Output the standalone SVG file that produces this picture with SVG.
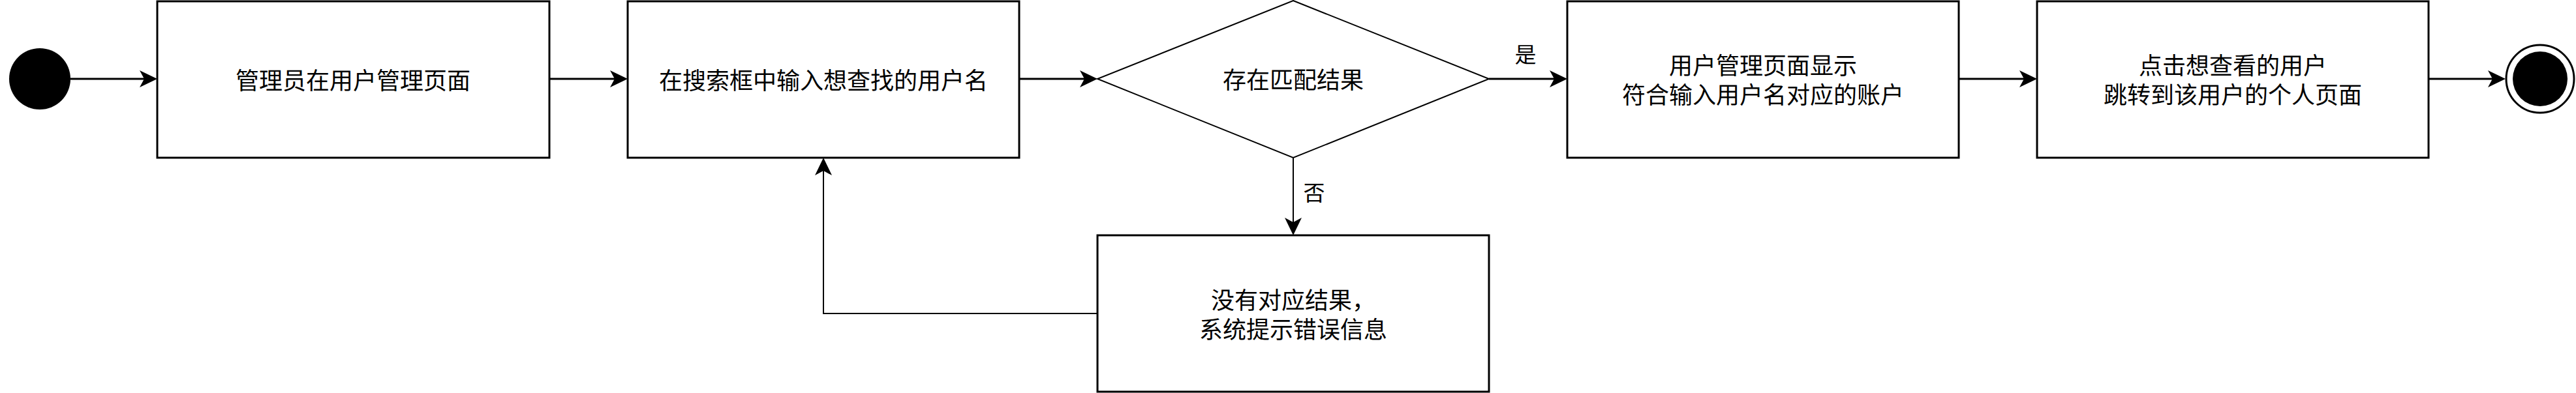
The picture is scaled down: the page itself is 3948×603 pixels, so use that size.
<svg xmlns="http://www.w3.org/2000/svg" width="3948" height="603" viewBox="0 0 3948 603">
<style>
.box{fill:#fff;stroke:#000;stroke-width:3}
.dia{fill:#fff;stroke:#000;stroke-width:2}
.t{font-family:"Noto Sans CJK SC","Noto Sans",sans-serif;font-size:36px;fill:#000;text-anchor:middle;dominant-baseline:central}
.s{font-size:33px}
.e{fill:none;stroke:#000;stroke-width:3;marker-end:url(#arr)}
.e2{fill:none;stroke:#000;stroke-width:2;marker-end:url(#arr)}
</style>
<defs>
<marker id="arr" markerUnits="userSpaceOnUse" markerWidth="30" markerHeight="28" refX="7" refY="13" orient="auto" viewBox="0 0 30 28">
<path d="M0,0 L27,13 L0,26 L7,13 Z" fill="#000"/>
</marker>
</defs>
<rect width="3948" height="603" fill="#fff"/>
<g id="connectors">
<path class="e" d="M108,121 L221,121"/>
<path class="e" d="M842,121 L942,121"/>
<path class="e" d="M1562,121 L1662,121"/>
<path class="e" d="M2282,121 L2382,121"/>
<text class="t s" x="2338" y="82">是</text>
<path class="e" d="M3002,121 L3102,121"/>
<path class="e" d="M3722,121 L3820,121"/>
<path class="e2" d="M1982,242 L1982,341"/>
<text class="t s" x="2014" y="294">否</text>
<path class="e2" d="M1682,481 L1262,481 L1262,262"/>
</g>
<g id="start"><circle cx="61" cy="121" r="47" fill="#000"/></g>
<g id="box1"><rect class="box" x="241" y="2" width="601" height="240"/><text class="t" x="541" y="121">管理员在用户管理页面</text></g>
<g id="box2"><rect class="box" x="962" y="2" width="600" height="240"/><text class="t" x="1262" y="121">在搜索框中输入想查找的用户名</text></g>
<g id="decision"><polygon class="dia" points="1982,1 2282,121 1982,242 1682,121"/><text class="t" x="1982" y="120">存在匹配结果</text></g>
<g id="box3"><rect class="box" x="2402" y="2" width="600" height="240"/><text class="t" x="2702" y="98">用户管理页面显示</text><text class="t" x="2702" y="143">符合输入用户名对应的账户</text></g>
<g id="box4"><rect class="box" x="3122" y="2" width="600" height="240"/><text class="t" x="3422" y="98">点击想查看的用户</text><text class="t" x="3422" y="143">跳转到该用户的个人页面</text></g>
<g id="box5"><rect class="box" x="1682" y="361" width="600" height="240"/><text class="t" x="1982" y="458">没有对应结果，</text><text class="t" x="1982" y="503">系统提示错误信息</text></g>
<g id="end"><circle cx="3893" cy="121" r="52" fill="#fff" stroke="#000" stroke-width="3"/><circle cx="3893" cy="121" r="42" fill="#000"/></g>
</svg>
